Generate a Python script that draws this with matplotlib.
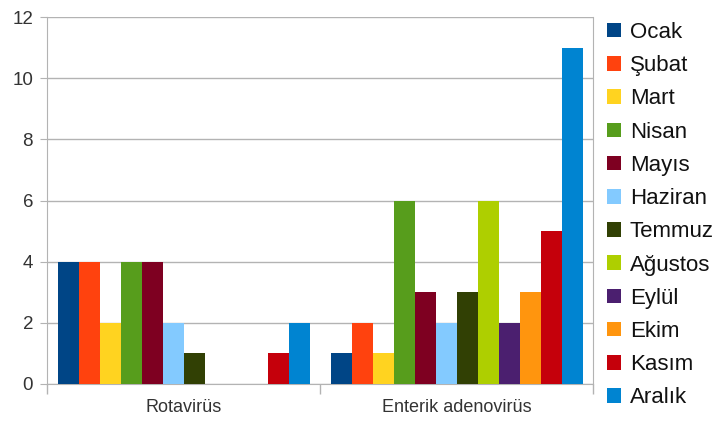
import matplotlib.pyplot as plt
import numpy as np

plt.rcParams['font.family'] = ['Liberation Sans', 'DejaVu Sans']

categories = ['Rotavirüs', 'Enterik adenovirüs']
months = ['Ocak', 'Şubat', 'Mart', 'Nisan', 'Mayıs', 'Haziran',
          'Temmuz', 'Ağustos', 'Eylül', 'Ekim', 'Kasım', 'Aralık']
rotavirus = [4, 4, 2, 4, 4, 2, 1, 0, 0, 0, 1, 2]
adenovirus = [1, 2, 1, 6, 3, 2, 3, 6, 2, 3, 5, 11]
colors = ['#004586', '#ff420e', '#ffd320', '#579d1c', '#7e0021', '#83caff',
          '#314004', '#aecf00', '#4b1f6f', '#ff950e', '#c5000b', '#0084d1']

fig = plt.figure(figsize=(7.25, 4.24), dpi=100)
ax = fig.add_axes([47 / 725, 40 / 424, 546 / 725, 367 / 424])

x = np.arange(len(categories))
w = 1 / 13
for i, m in enumerate(months):
    vals = [rotavirus[i], adenovirus[i]]
    ax.bar(x + (i - 5.5) * w, vals, w, color=colors[i], label=m, zorder=3)

ax.set_xlim(-0.5, 1.5)
ax.set_ylim(0, 12)
ax.set_yticks(range(0, 13, 2))
ax.set_xticks(x)
ax.set_xticklabels(categories, fontsize=13, color='#333333')
ax.set_xticks([-0.5, 0.5, 1.5], minor=True)
ax.tick_params(axis='x', which='major', length=0, pad=11)
ax.tick_params(axis='x', which='minor', length=7, color='#b3b3b3', width=1)
ax.tick_params(axis='y', length=5, color='#b3b3b3', labelsize=13.5,
               labelcolor='#333333', pad=5)
ax.grid(axis='y', color='#b3b3b3', linewidth=1, zorder=0)
for s in ['left', 'right', 'bottom']:
    ax.spines[s].set_color('#b3b3b3')
ax.spines['top'].set_visible(False)

leg = ax.legend(loc='upper left', bbox_to_anchor=(607 / 725, 1 - 22 / 424),
                bbox_transform=fig.transFigure, frameon=False, fontsize=16,
                handlelength=0.63, handleheight=0.63, handletextpad=0.4,
                labelspacing=0.55, borderpad=0, borderaxespad=0)
for t in leg.get_texts():
    t.set_color('#111111')

fig.savefig('out.png', dpi=100)
